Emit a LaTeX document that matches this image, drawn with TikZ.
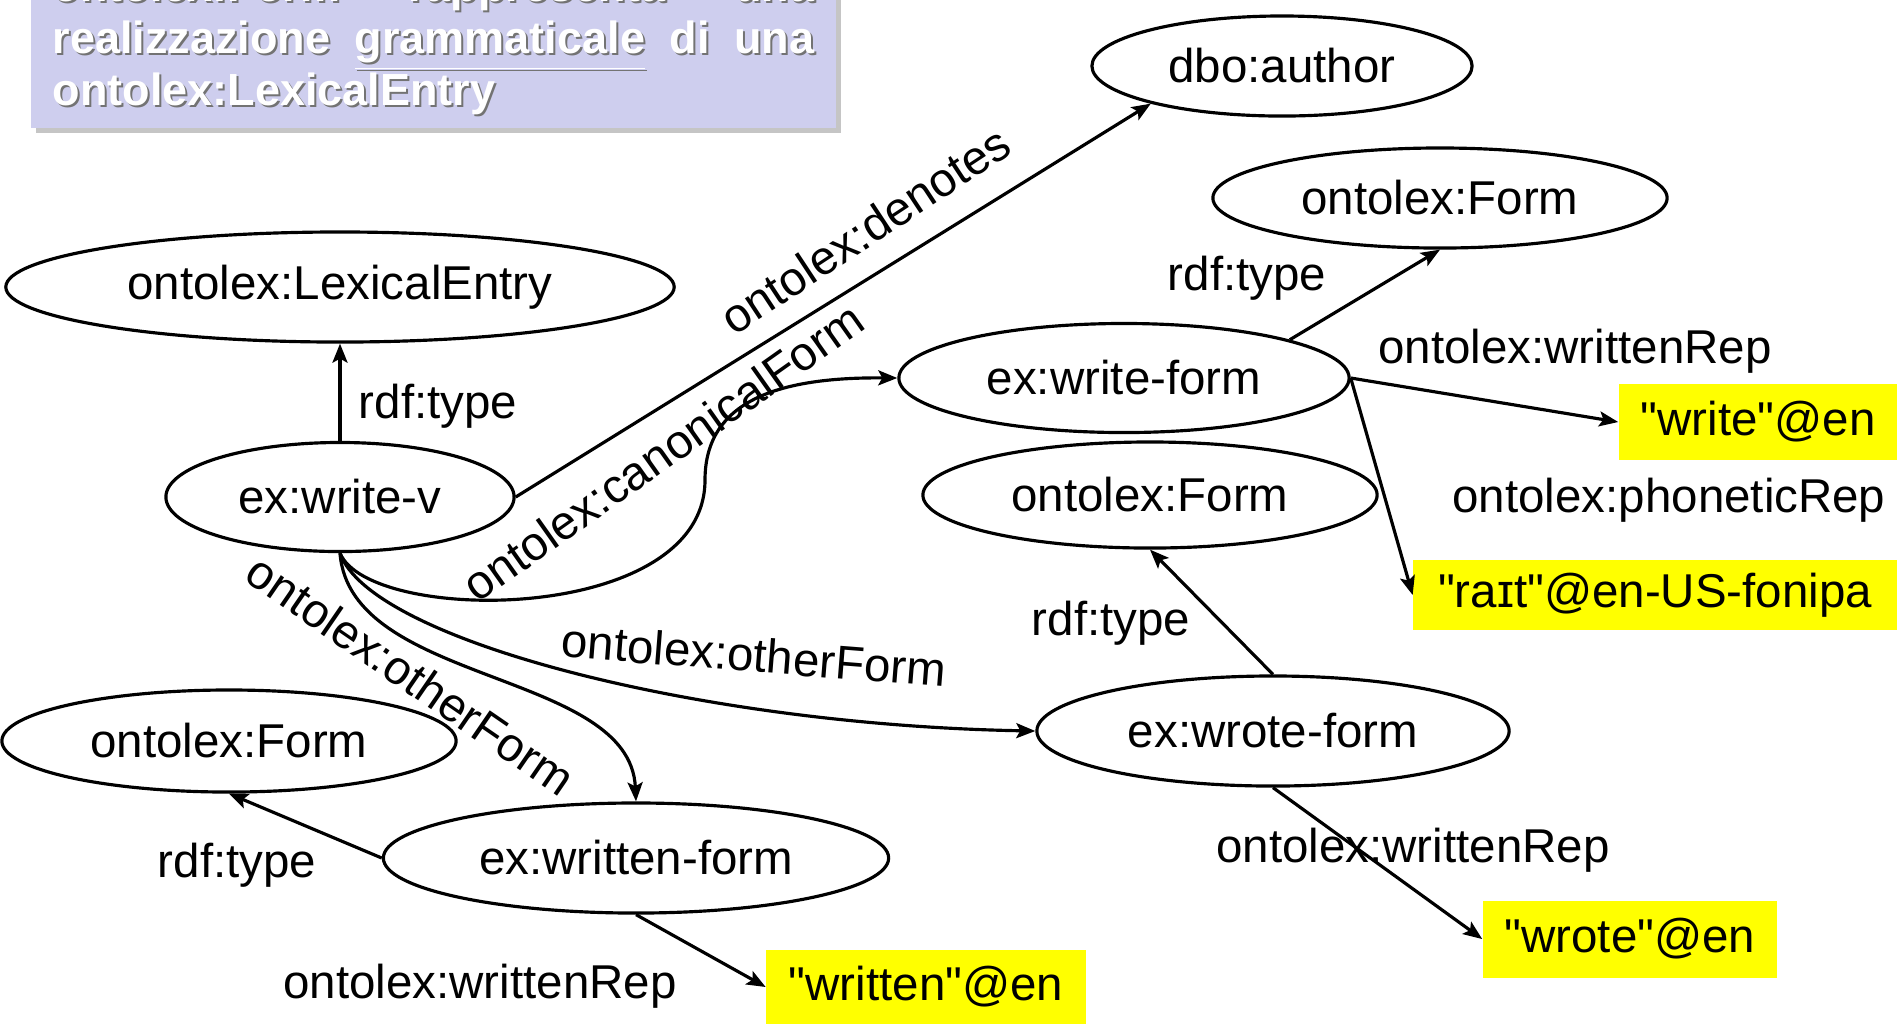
\documentclass[tikz,border=0pt]{standalone}
\usepackage{fontspec}
\setmainfont{Liberation Sans}
\usetikzlibrary{shapes.geometric,arrows.meta,shadows}
\definecolor{boxlila}{RGB}{206,206,238}
\definecolor{litgelb}{RGB}{255,255,0}
\newcommand{\nodefont}{\fontsize{13.5}{16}\selectfont}
\newcommand{\boxfont}{\fontsize{12.8}{14.8}\selectfont\bfseries}
\newcommand{\qd}{\textquotedbl}
\newcommand{\boxtext}{ontolex:Form rappresenta una\linebreak
realizzazione \underline{grammaticale} di una\linebreak
ontolex:LexicalEntry}

\begin{document}
\begin{tikzpicture}[
	x=0.01cm, y=-0.01cm,% Raster wie die Vorlage (Pixel)
	res/.style={draw, ellipse, line width=0.9pt, inner sep=0pt, font=\nodefont},
	lit/.style={fill=litgelb, inner sep=0pt, font=\nodefont},
	lbl/.style={inner sep=0pt, font=\nodefont},
	rel/.style={line width=0.9pt, -{Stealth[length=1.9mm,width=1.5mm,inset=0.4mm]}}
]
\useasboundingbox[fill=white] (0,0) rectangle (1897,1023);
%
% Kasten oben links (oben abgeschnitten)
\node(p_box)%
    [fill=boxlila, drop shadow={shadow xshift=0.05cm, shadow yshift=-0.05cm, opacity=0.45},
     anchor=north west, minimum width=8.05cm, minimum height=1.9cm, inner sep=0pt]%
    at (30,-63)%
    {};%
\node(p_boxschatten)%
    [anchor=south west, text width=7.61cm, align=justify, inner sep=0pt, font=\boxfont, text=black!55]%
    at (54,118)%
    {\boxtext};%
\node(p_boxtext)%
    [anchor=south west, text width=7.61cm, align=justify, inner sep=0pt, font=\boxfont, text=white]%
    at (52,116)%
    {\boxtext};%
%
% Ressourcen
\node(p_author)%
    [res, minimum width=3.8cm, minimum height=1.0cm]%
    at (1282,66)%
    {dbo:author};%
\node(p_formtop)%
    [res, minimum width=4.54cm, minimum height=1.0cm]%
    at (1440,198)%
    {ontolex:Form};%
\node(p_lexentry)%
    [res, minimum width=6.68cm, minimum height=1.1cm]%
    at (340,287)%
    {ontolex:LexicalEntry};%
\node(p_writeform)%
    [res, minimum width=4.5cm, minimum height=1.09cm]%
    at (1124,378)%
    {ex:write-form};%
\node(p_formmid)%
    [res, minimum width=4.54cm, minimum height=1.06cm]%
    at (1150,495)%
    {ontolex:Form};%
\node(p_writev)%
    [res, minimum width=3.48cm, minimum height=1.09cm]%
    at (340,497)%
    {ex:write-v};%
\node(p_wroteform)%
    [res, minimum width=4.72cm, minimum height=1.1cm]%
    at (1273,731)%
    {ex:wrote-form};%
\node(p_formbl)%
    [res, minimum width=4.54cm, minimum height=1.02cm]%
    at (229,741)%
    {ontolex:Form};%
\node(p_writtenform)%
    [res, minimum width=5.05cm, minimum height=1.1cm]%
    at (636,858)%
    {ex:written-form};%
%
% Literale
\node(p_litwrite)%
    [lit, minimum width=2.78cm, minimum height=0.75cm]%
    at (1758,422)%
    {\qd write\qd @en};%
\node(p_litrait)%
    [lit, minimum width=4.83cm, minimum height=0.7cm]%
    at (1655,595)%
    {\qd raɪt\qd @en-US-fonipa};%
\node(p_litwrote)%
    [lit, minimum width=2.94cm, minimum height=0.77cm]%
    at (1630,939)%
    {\qd wrote\qd @en};%
\node(p_litwritten)%
    [lit, minimum width=3.19cm, minimum height=0.75cm]%
    at (926,987)%
    {\qd written\qd @en};%
%
% Kanten
\coordinate(c_knick) at (705,480);%
\draw[rel] (p_writev.north) -- (p_lexentry.south);%
\draw[rel] (p_writev.east) -- (p_author.196);%
\draw[rel] (p_writev.south) .. controls (370,625) and (705,625) .. (c_knick)
    .. controls (705,400) and (780,377) .. (p_writeform.west);%
\draw[rel] (p_writev.south) .. controls (370,640) and (700,725) .. (p_wroteform.west);%
\draw[rel] (p_writev.south) .. controls (350,685) and (630,670) .. (p_writtenform.north);%
\draw[rel] (p_writeform.13) -- (p_formtop.south);%
\draw[rel] (p_writeform.east) -- (p_litwrite.west);%
\draw[rel] (p_writeform.east) -- (p_litrait.west);%
\draw[rel] (p_wroteform.north) -- (p_formmid.south);%
\draw[rel] (p_wroteform.south) -- (p_litwrote.west);%
\draw[rel] (p_writtenform.west) -- (p_formbl.south);%
\draw[rel] (p_writtenform.south) -- (p_litwritten.west);%
%
% Beschriftungen
\node(l_type_a)[lbl] at (438,406) {rdf:type};%
\node(l_denotes)[lbl, rotate=33.4] at (865,230) {ontolex:denotes};%
\node(l_canonical)[lbl, rotate=35.3] at (663,452) {ontolex:canonicalForm};%
\node(l_type_b)[lbl] at (1247,278) {rdf:type};%
\node(l_wrep_a)[lbl] at (1575,351) {ontolex:writtenRep};%
\node(l_prep)[lbl] at (1669,500) {ontolex:phoneticRep};%
\node(l_type_c)[lbl] at (1111,623) {rdf:type};%
\node(l_other_a)[lbl, rotate=-4.5] at (754,655) {ontolex:otherForm};%
\node(l_other_b)[lbl, rotate=-34.5] at (411,675) {ontolex:otherForm};%
\node(l_type_d)[lbl] at (237,865) {rdf:type};%
\node(l_wrep_b)[lbl] at (480,986) {ontolex:writtenRep};%
\node(l_wrep_c)[lbl] at (1413,850) {ontolex:writtenRep};%
%
\end{tikzpicture}
\end{document}
